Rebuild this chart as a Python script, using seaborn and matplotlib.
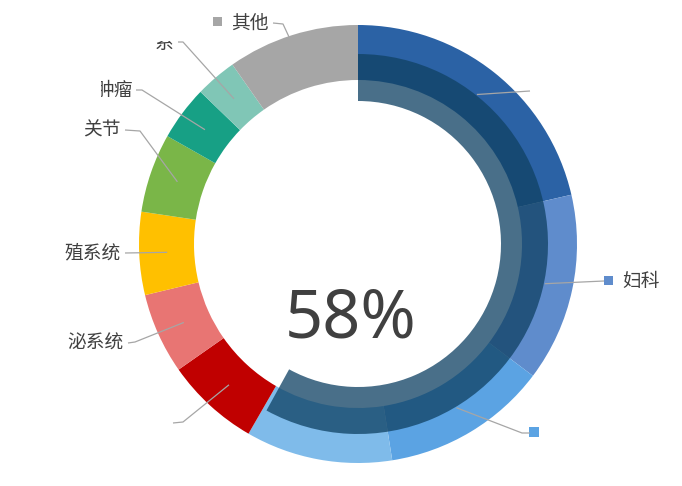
import matplotlib
matplotlib.use("Agg")
import matplotlib.pyplot as plt
import seaborn as sns
import numpy as np
from matplotlib.patches import Rectangle

# ---------------- data ----------------
categories = ["", "妇科", "", "", "", "泌系统", "殖系统", "关节", "肿瘤", "系", "其他"]
shares = [77, 50, 44, 39, 25, 21.5, 22, 21, 14.5, 11, 35]
colors = ["#2B62A5", "#5F8CCC", "#5BA3E3", "#7FBBEA", "#C00000", "#E87573",
          "#FFC000", "#7AB648", "#17A085", "#80C6B6", "#A6A6A6"]
overlay_values = [58, 42]
center_label = "58%"

# ---------------- layout ----------------
W, H = 682, 486
CX, CY = 358, 244          # pixel centre
R_OUT, RING_W = 219, 55
OV_R, OV_W = 190, 47
LINE_R = 191

# leader-line elbow and end points (pixel coords) for each category index
leaders = {
    0: [(530, 91)],
    1: [(604, 281)],
    2: [(522, 433), (530, 433)],
    4: [(183, 422), (173, 423)],
    5: [(135, 342), (128, 343)],
    6: [(125, 253)],
    7: [(140, 131), (125, 130)],
    8: [(142, 90), (136, 90)],
    9: [(183, 42), (178, 42)],
    10: [(283, 24), (273, 23)],
}
# text anchor in pixel coords
text_pos = {
    1: (622, 281, "left"),
    5: (124, 343, "right"),
    6: (121, 253, "right"),
    7: (121, 130, "right"),
    8: (133, 90, "right"),
    9: (173, 44, "right"),
    10: (269, 23, "right"),
}
markers = {1: (608, 281, 9), 2: (534, 432, 10), 10: (217, 22, 9)}
# clip boxes (pixel coords: x0, y0, x1, y1) for partly drawn labels
clip_boxes = {8: (101, 0, W, H), 9: (140, 41, W, H)}

sns.set_theme(style="white")
plt.rcParams["font.family"] = ["Noto Sans CJK SC", "DejaVu Sans"]

fig = plt.figure(figsize=(W / 100, H / 100), dpi=100)
ax = fig.add_axes([0, 0, 1, 1])


ax.pie(shares, colors=colors, radius=R_OUT, center=(CX, H - CY),
       startangle=90, counterclock=False,
       wedgeprops=dict(width=RING_W, linewidth=0, antialiased=True))

ov_color = (16 / 255, 66 / 255, 100 / 255, 0.76)
ax.pie(overlay_values, colors=[ov_color, (1, 1, 1, 0)], radius=OV_R, center=(CX, H - CY),
       startangle=90, counterclock=False,
       wedgeprops=dict(width=OV_W, linewidth=0))

# leader lines
total = sum(shares)
cum = np.cumsum([0] + shares)
for i, pts in leaders.items():
    mid = (cum[i] + cum[i + 1]) / 2 / total * 360
    th = np.deg2rad(mid)
    sx = CX + LINE_R * np.sin(th)
    sy = CY - LINE_R * np.cos(th)
    xs = [sx] + [p[0] for p in pts]
    ys = [H - sy] + [H - p[1] for p in pts]
    ax.plot(xs, ys, color="#A6A6A6", lw=0.9, solid_capstyle="butt")

for i, (mx, my, s) in markers.items():
    ax.add_patch(Rectangle((mx - s / 2, H - my - s / 2), s, s,
                           facecolor=colors[i], edgecolor="none"))

for i, (tx, ty, ha) in text_pos.items():
    t = ax.text(tx, H - ty, categories[i], ha=ha, va="center", fontsize=13.5,
                color="#404040")
    if i in clip_boxes:
        x0, y0, x1, y1 = clip_boxes[i]
        clip = Rectangle((x0, H - y1), x1 - x0, y1 - y0, transform=ax.transData,
                         facecolor="none", edgecolor="none")
        ax.add_patch(clip)
        t.set_clip_on(True)
        t.set_clip_path(clip)

ax.text(351, H - 338, center_label, ha="center", va="baseline", fontsize=48,
        color="#404040", family=["Noto Sans", "DejaVu Sans"])

ax.set_xlim(0, W)
ax.set_ylim(0, H)
ax.set_aspect("equal")
ax.axis("off")

fig.savefig("out.png", dpi=100, facecolor="white")
